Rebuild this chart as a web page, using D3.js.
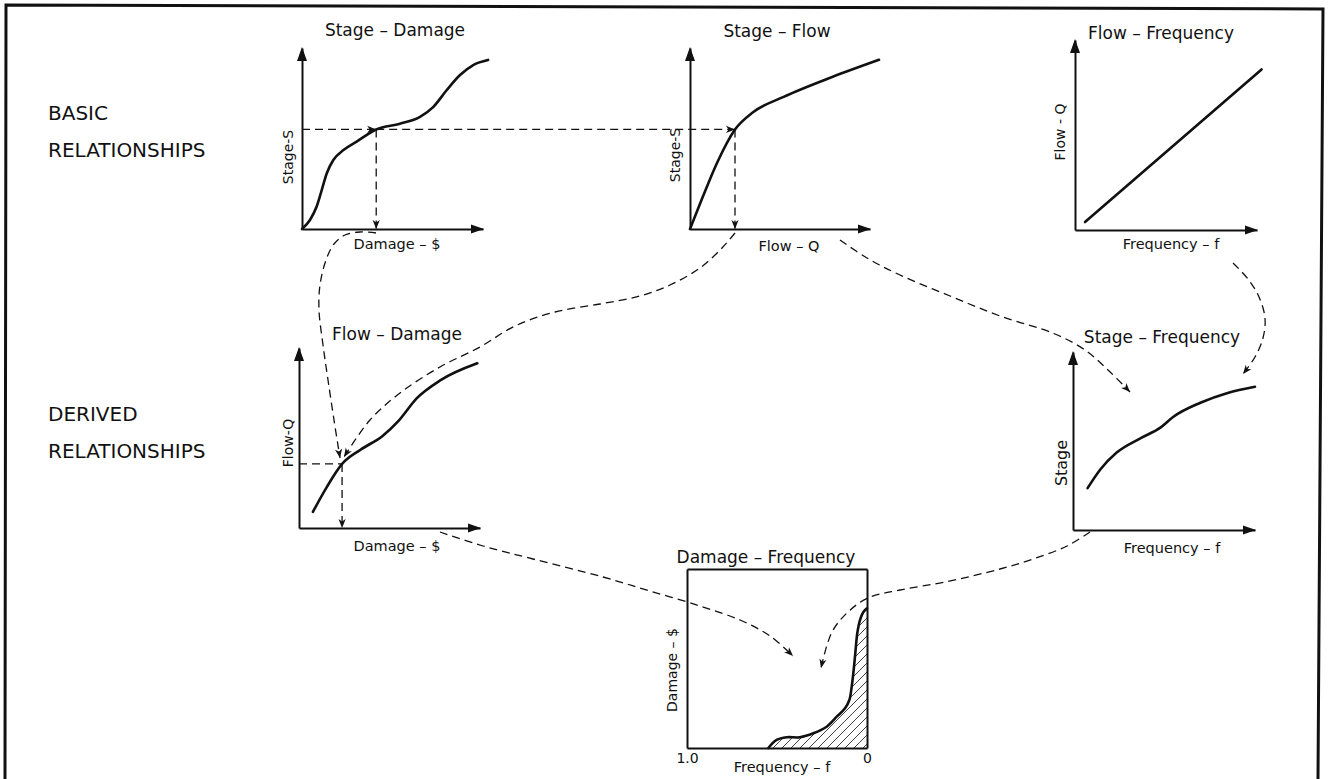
<!DOCTYPE html>
<html><head><meta charset="utf-8">
<script src="https://cdn.jsdelivr.net/npm/d3@7"></script>
<style>
body{margin:0;background:#fff}
svg{display:block}
text{font-family:"DejaVu Sans",sans-serif;fill:#111}
</style>
</head><body>
<svg id="c" width="1329" height="779"></svg>
<script>
// ---------------- DATA (relative units 0..10, frequency 0..1) ----------------
const stageDamage = [[0,0],[0.44,0.5],[0.81,1.24],[1.09,2.15],[1.37,3.08],[1.73,3.81],[2.29,4.36],[3.02,4.83],[4.1,5.5],[5.41,5.82],[6.52,6.2],[7.26,6.75],[8.0,7.68],[8.73,8.51],[9.46,9.06],[10.28,9.34]];
const stageFlow = [[0,0],[0.7,1.75],[1.5,3.65],[2.5,5.5],[3.5,6.45],[5.2,7.3],[7.9,8.4],[10.5,9.35]];
const flowFrequency = [[0.55,0.42],[10.25,8.45]];
const flowDamage = [[0.77,0.9],[1.55,2.3],[2.38,3.56],[3.4,4.35],[4.6,5.1],[5.5,5.95],[6.5,7.2],[7.8,8.2],[9.85,9.15]];
const stageFrequency = [[0.8,2.35],[1.5,3.4],[2.4,4.35],[3.7,5.15],[4.8,5.75],[5.5,6.35],[7,7.15],[8.5,7.7],[10,8.05]];
const damageFrequency = [[0.548,0],[0.502,0.45],[0.446,0.6],[0.372,0.6],[0.298,0.82],[0.224,1.19],[0.168,1.75],[0.122,2.22],[0.098,2.68],[0.085,3.43],[0.076,4.17],[0.065,5.29],[0.054,6.41],[0.039,7.15],[0.02,7.6],[0,7.8]];
const freqTickValues = [1, 0];
const freqTickLabels = ["1.0", "0"];
const readStage = 5.5, readDamage = 4.1, readFlow = 2.5;      // basic readings
const readFlow2 = 3.56, readDamage2 = 2.38;                    // derived reading
const titles = ["Stage – Damage","Stage – Flow","Flow – Frequency","Flow – Damage","Stage – Frequency","Damage – Frequency"];
const xLabels = ["Damage – $","Flow – Q","Frequency – f","Damage – $","Frequency – f","Frequency – f"];
const yLabels = ["Stage-S","Stage-S","Flow - Q","Flow-Q","Stage","Damage – $"];
const sideLabels = [["BASIC","RELATIONSHIPS"],["DERIVED","RELATIONSHIPS"]];
// connector guide paths (page coordinates, annotations)
const connectors = [
  [[376,233],[360,232],[345,235],[334,244],[326,260],[320,285],[319,310],[323,345],[328,380],[334,420],[340,458]],
  [[735,233],[722,248],[700,268],[670,285],[640,296],[600,304],[555,312],[515,326],[480,347],[440,367],[400,393],[370,420],[344,457]],
  [[840,240],[867,258],[900,275],[950,296],[1000,316],[1055,334],[1085,350],[1108,370],[1130,392]],
  [[1233,263],[1248,279],[1259,297],[1265,318],[1263,338],[1255,357],[1243,374]],
  [[440,532],[483,546],[533,559],[603,577],[650,591],[700,606],[740,620],[770,636],[793,656]],
  [[1090,532],[1067,546],[1033,559],[1000,569],[945,582],[900,590],[868,598],[848,612],[832,632],[821,668]]
];

// ---------------- LAYOUT ----------------
const W = 1329, H = 779, INK = "#111";
const svg = d3.select("#c");
svg.append("rect").attr("width",W).attr("height",H).attr("fill","#fff");
const defs = svg.append("defs");
defs.append("marker").attr("id","arr").attr("viewBox","-11 -5 12 10")
  .attr("refX",0).attr("refY",0).attr("markerWidth",12).attr("markerHeight",10)
  .attr("markerUnits","userSpaceOnUse").attr("orient","auto")
  .append("path").attr("d","M0,0L-9,-3.6L-6.5,0L-9,3.6Z").attr("fill",INK);
const pat = defs.append("pattern").attr("id","hatch").attr("patternUnits","userSpaceOnUse")
  .attr("width",9).attr("height",9);
pat.append("path").attr("d","M0,9L9,0M-1,1L1,-1M8,10L10,8").attr("stroke",INK).attr("stroke-width",0.8);

// frame
const frame = [[6,5],[1323,9],[1318,779]];
svg.append("path").attr("d", d3.line()([[5,779],...frame])).attr("fill","none").attr("stroke",INK).attr("stroke-width",3);

// panels: scales
const P = [
  {x:d3.scaleLinear([0,10],[302,483]), y:d3.scaleLinear([0,10],[229,48]), data:stageDamage,
   t:[395,36], xl:[397,249], yl:[293,157]},
  {x:d3.scaleLinear([0,10],[690,870]), y:d3.scaleLinear([0,10],[229,48]), data:stageFlow,
   t:[777,37], xl:[789,251], yl:[680,155]},
  {x:d3.scaleLinear([0,10],[1075,1257]), y:d3.scaleLinear([0,10],[230,40]), data:flowFrequency,
   t:[1161,39], xl:[1171,249], yl:[1065,132]},
  {x:d3.scaleLinear([0,10],[299,480]), y:d3.scaleLinear([0,10],[528,348]), data:flowDamage,
   t:[397,340], xl:[397,551], yl:[293,443]},
  {x:d3.scaleLinear([0,10],[1073,1255]), y:d3.scaleLinear([0,10],[530,352]), data:stageFrequency,
   t:[1162,343], xl:[1172,553], yl:[1067,463]},
  {x:d3.scaleLinear([1,0],[687,867]), y:d3.scaleLinear([0,10],[748,569]), data:damageFrequency,
   t:[766,563], xl:[782,772], yl:[677,670], box:true}
];

function styleAxis(g){ g.select(".domain").attr("stroke",INK).attr("stroke-width",2); g.selectAll(".tick line").remove(); }

P.forEach((p,i)=>{
  const g = svg.append("g");
  const [x0,x1] = p.x.range(), [y0,y1] = p.y.range();
  const curve = p.box ? d3.curveCatmullRom.alpha(0.5) : d3.curveMonotoneX;
  if (p.box) {
    const hatchArea = d3.area().x(d=>p.x(d[0])).y0(p.y(0)).y1(d=>p.y(d[1])).curve(curve);
    g.append("path").attr("d",hatchArea(p.data)).attr("fill","url(#hatch)");
    g.append("g").attr("transform",`translate(0,${y0})`)
      .call(d3.axisBottom(p.x).tickValues(freqTickValues).tickSize(0).tickPadding(5)
        .tickFormat((d,k)=>freqTickLabels[k]).tickSizeOuter(0))
      .call(styleAxis).call(a=>a.selectAll("text").attr("font-size",14).attr("font-family","DejaVu Sans").attr("fill",INK));
    g.append("g").attr("transform",`translate(${x0},0)`).call(d3.axisLeft(p.y).tickValues([]).tickSizeOuter(0)).call(styleAxis);
    g.append("g").attr("transform",`translate(0,${y1})`).call(d3.axisTop(p.x).tickValues([]).tickSizeOuter(0)).call(styleAxis);
    g.append("g").attr("transform",`translate(${x1},0)`).call(d3.axisRight(p.y).tickValues([]).tickSizeOuter(0)).call(styleAxis);
  } else {
    g.append("g").attr("transform",`translate(0,${y0})`).call(d3.axisBottom(p.x).tickValues([]).tickSizeOuter(0)).call(styleAxis);
    g.append("g").attr("transform",`translate(${x0},0)`).call(d3.axisLeft(p.y).tickValues([]).tickSizeOuter(0)).call(styleAxis);
    g.append("path").attr("d",`M${x1+1},${y0}L${x1-12},${y0-4.5}L${x1-12},${y0+4.5}Z`).attr("fill",INK);
    g.append("path").attr("d",`M${x0},${y1-1}L${x0-5},${y1+13}L${x0+5},${y1+13}Z`).attr("fill",INK);
  }
  const ln = d3.line().x(d=>p.x(d[0])).y(d=>p.y(d[1])).curve(curve);
  g.append("path").attr("d",ln(p.data)).attr("fill","none").attr("stroke",INK)
    .attr("stroke-width",2.6).attr("stroke-linecap","round");
  g.append("text").attr("x",p.t[0]).attr("y",p.t[1]).attr("text-anchor","middle").attr("font-size",17).text(titles[i]);
  g.append("text").attr("x",p.xl[0]).attr("y",p.xl[1]).attr("text-anchor","middle").attr("font-size",14.5).text(xLabels[i]);
  g.append("text").attr("transform",`translate(${p.yl[0]},${p.yl[1]}) rotate(-90)`)
    .attr("text-anchor","middle").attr("font-size",i===4?16:14).text(yLabels[i]);
});

// reading (dashed) lines
const dash = "8,5";
function dl(pts, arrow){
  const pth = svg.append("path").attr("d",d3.line()(pts)).attr("fill","none").attr("stroke",INK)
    .attr("stroke-width",1.3).attr("stroke-dasharray",dash);
  if (arrow) pth.attr("marker-end","url(#arr)");
}
const [sd, sf, ff, fd, sq, df] = P;
dl([[sd.x(0),sd.y(readStage)],[sd.x(readDamage),sd.y(readStage)]], true);
dl([[sd.x(readDamage),sd.y(readStage)],[sf.x(readFlow),sd.y(readStage)]], true);
dl([[sd.x(readDamage),sd.y(readStage)],[sd.x(readDamage),sd.y(0)]], true);
dl([[sf.x(readFlow),sf.y(readStage)],[sf.x(readFlow),sf.y(0)]], true);
dl([[fd.x(0),fd.y(readFlow2)],[fd.x(readDamage2),fd.y(readFlow2)]], false);
dl([[fd.x(readDamage2),fd.y(readFlow2)],[fd.x(readDamage2),fd.y(0)]], true);

// connectors
const cl = d3.line().curve(d3.curveCatmullRom.alpha(0.5));
connectors.forEach(c=>{
  svg.append("path").attr("d",cl(c)).attr("fill","none").attr("stroke",INK)
    .attr("stroke-width",1.3).attr("stroke-dasharray",dash).attr("marker-end","url(#arr)");
});

// side labels
const sidePos = [[48,120,157],[48,421,458]];
sideLabels.forEach((s,i)=>{
  svg.append("text").attr("x",sidePos[i][0]).attr("y",sidePos[i][1]).attr("font-size",20).text(s[0]);
  svg.append("text").attr("x",sidePos[i][0]).attr("y",sidePos[i][2]).attr("font-size",20).text(s[1]);
});
</script>
</body></html>
